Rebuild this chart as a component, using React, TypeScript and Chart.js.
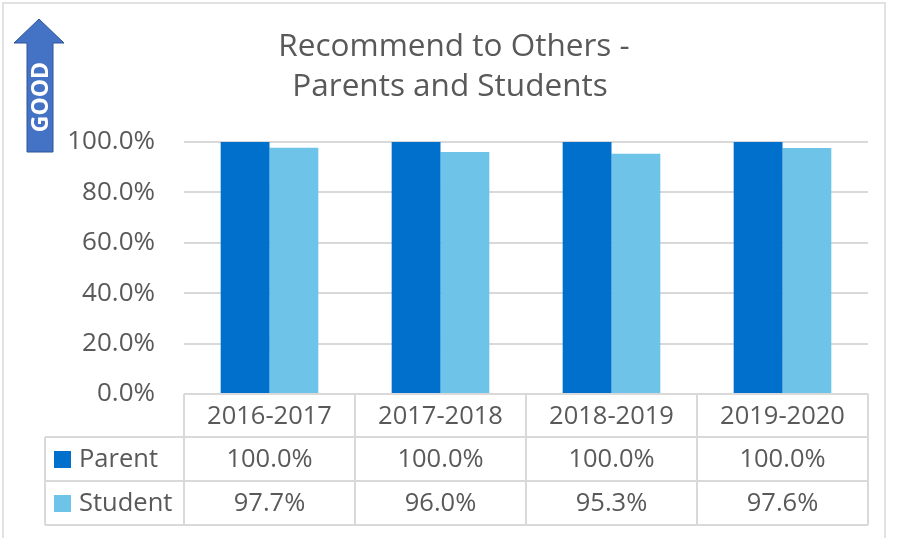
import React, { useEffect, useRef } from 'react';
import { Chart, registerables } from 'chart.js';

Chart.register(...registerables);

const categories = ['2016-2017', '2017-2018', '2018-2019', '2019-2020'];
const seriesNames = ['Parent', 'Student'];
const parentValues = [100.0, 100.0, 100.0, 100.0];
const studentValues = [97.7, 96.0, 95.3, 97.6];
const yTickStep = 20;
const yMax = 100;
const titleLines = ['Recommend to Others -', 'Parents and Students'];
const arrowLabel = 'GOOD';

const FONT = "'Open Sans', 'Noto Sans', sans-serif";
const TEXT = '#595959';
const GRID = '#d9d9d9';
const COLORS = ['#0070CC', '#6EC4E8'];

const fmt = (v: number) => v.toFixed(1) + '%';

const decorPlugin = {
  id: 'decor',
  afterDraw(chart: any) {
    const ctx = chart.ctx as CanvasRenderingContext2D;
    const area = chart.chartArea;
    const xs = chart.scales.x;
    ctx.save();

    // outer border
    ctx.strokeStyle = GRID;
    ctx.lineWidth = 1.5;
    ctx.strokeRect(3, 3, 882, 545);

    // title
    ctx.fillStyle = TEXT;
    ctx.font = `31.5px ${FONT}`;
    ctx.textAlign = 'center';
    ctx.textBaseline = 'middle';
    ctx.fillText(titleLines[0], 454, 47);
    ctx.fillText(titleLines[1], 450, 87);

    // arrow
    ctx.beginPath();
    ctx.moveTo(39, 19);
    ctx.lineTo(64, 43);
    ctx.lineTo(53, 43);
    ctx.lineTo(53, 152);
    ctx.lineTo(27, 152);
    ctx.lineTo(27, 43);
    ctx.lineTo(14, 43);
    ctx.closePath();
    ctx.fillStyle = '#4472C4';
    ctx.fill();
    ctx.strokeStyle = '#2F5597';
    ctx.lineWidth = 1;
    ctx.stroke();
    ctx.save();
    ctx.translate(40, 97);
    ctx.rotate(-Math.PI / 2);
    ctx.fillStyle = '#ffffff';
    ctx.font = `bold 23px ${FONT}`;
    ctx.textAlign = 'center';
    ctx.textBaseline = 'middle';
    ctx.fillText(arrowLabel, 0, 1);
    ctx.restore();

    // data table
    const rowH = 44;
    const top = area.bottom;
    const r1 = top + 43;
    const r2 = r1 + rowH;
    const r3 = r2 + rowH;
    const tableLeft = 45;
    const n = categories.length;
    const colW = (area.right - area.left) / n;
    ctx.strokeStyle = GRID;
    ctx.lineWidth = 2;
    ctx.beginPath();
    for (let i = 0; i <= n; i++) {
      const x = Math.round(area.left + i * colW);
      ctx.moveTo(x, top);
      ctx.lineTo(x, r3);
    }
    ctx.moveTo(tableLeft, r1);
    ctx.lineTo(area.right, r1);
    ctx.moveTo(tableLeft, r2);
    ctx.lineTo(area.right, r2);
    ctx.moveTo(tableLeft, r3);
    ctx.lineTo(area.right, r3);
    ctx.moveTo(tableLeft, r1);
    ctx.lineTo(tableLeft, r3);
    ctx.stroke();

    ctx.fillStyle = TEXT;
    ctx.font = `25.5px ${FONT}`;
    ctx.textAlign = 'center';
    ctx.textBaseline = 'middle';
    const rows = [parentValues, studentValues];
    categories.forEach((c, i) => {
      const cx = xs.getPixelForValue(i);
      ctx.fillText(c, cx, (top + r1) / 2 + 1);
      ctx.fillText(fmt(rows[0][i]), cx, (r1 + r2) / 2 + 1);
      ctx.fillText(fmt(rows[1][i]), cx, (r2 + r3) / 2 + 1);
    });
    const rowMids = [(r1 + r2) / 2, (r2 + r3) / 2];
    seriesNames.forEach((s, k) => {
      ctx.fillStyle = COLORS[k];
      ctx.fillRect(54, rowMids[k] - 8, 17, 17);
      ctx.fillStyle = TEXT;
      ctx.textAlign = 'left';
      ctx.fillText(s, 79, rowMids[k] + 1);
    });

    ctx.restore();
  },
};

export default function App() {
  const ref = useRef<HTMLCanvasElement | null>(null);
  useEffect(() => {
    if (!ref.current) return;
    const chart = new Chart(ref.current, {
      type: 'bar',
      data: {
        labels: categories,
        datasets: [
          {
            label: seriesNames[0],
            data: parentValues,
            backgroundColor: COLORS[0],
            categoryPercentage: 0.571,
            barPercentage: 1,
          },
          {
            label: seriesNames[1],
            data: studentValues,
            backgroundColor: COLORS[1],
            categoryPercentage: 0.571,
            barPercentage: 1,
          },
        ],
      },
      options: {
        animation: false,
        responsive: true,
        maintainAspectRatio: false,
        layout: { padding: { top: 142, left: 0, right: 29, bottom: 144 } },
        plugins: {
          legend: { display: false },
          title: { display: false },
          tooltip: { enabled: false },
        },
        scales: {
          x: { display: false, offset: true },
          y: {
            min: 0,
            max: yMax,
            afterFit: (scale: any) => {
              scale.width = 184;
            },
            border: { display: false },
            grid: { color: GRID, lineWidth: 2, drawTicks: false },
            ticks: {
              stepSize: yTickStep,
              padding: 29,
              color: TEXT,
              font: { family: FONT, size: 26 },
              callback: (v: any) => fmt(Number(v)),
            },
          },
        },
      },
      plugins: [decorPlugin],
    });
    return () => chart.destroy();
  }, []);
  return (
    <div style={{ position: 'fixed', left: 0, top: 0, width: 897, height: 538, background: '#fff' }}>
      <canvas ref={ref} />
    </div>
  );
}
